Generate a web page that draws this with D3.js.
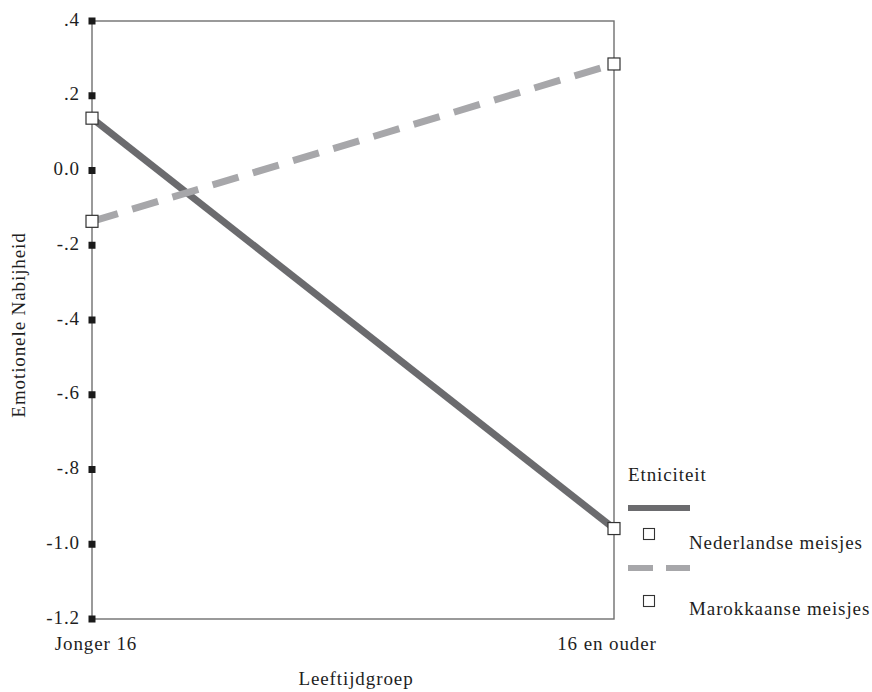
<!DOCTYPE html>
<html><head><meta charset="utf-8">
<script src="https://cdn.jsdelivr.net/npm/d3@7"></script>
<style>body{margin:0;background:#fff}svg{display:block}text{font-family:"Liberation Serif","DejaVu Serif",serif;fill:#1e1e1e;letter-spacing:0.9px}</style>
</head><body>
<script>
const categories = ["Jonger 16", "16 en ouder"];
const seriesNames = ["Nederlandse meisjes", "Marokkaanse meisjes"];
const nederlandse = [0.140, -0.958];
const marokkaanse = [-0.136, 0.285];
const yTicks = [0.4, 0.2, 0.0, -0.2, -0.4, -0.6, -0.8, -1.0, -1.2];
const yTickLabels = [".4", ".2", "0.0", "-.2", "-.4", "-.6", "-.8", "-1.0", "-1.2"];
const yTitle = "Emotionele Nabijheid";
const xTitle = "Leeftijdgroep";
const legendTitle = "Etniciteit";

const W = 872, H = 692;
const svg = d3.select("body").append("svg").attr("width", W).attr("height", H);
const x = d3.scalePoint().domain(categories).range([92, 614]);
const y = d3.scaleLinear().domain([-1.2, 0.4]).range([619, 21]);
const FS = 19;

// frame
svg.append("rect").attr("x", 92).attr("y", 21).attr("width", 522).attr("height", 598)
  .attr("fill", "none").attr("stroke", "#707070").attr("stroke-width", 1.4);

// ticks
yTicks.forEach((t, i) => {
  svg.append("rect").attr("x", 92 - 3.5).attr("y", y(t) - 3.5).attr("width", 7).attr("height", 7).attr("fill", "#1a1a1a");
  svg.append("text").attr("x", 80).attr("y", y(t) + 4.5).attr("text-anchor", "end")
    .attr("font-size", FS).text(yTickLabels[i]);
});
const xLabelShift = [4, -7];
categories.forEach((c, i) => {
  svg.append("text").attr("x", x(c) + xLabelShift[i]).attr("y", 650).attr("text-anchor", "middle").attr("font-size", FS).text(c);
});
svg.append("text").attr("x", 356).attr("y", 685).attr("text-anchor", "middle").attr("font-size", FS).text(xTitle);
svg.append("text").attr("transform", "translate(25,325) rotate(-90)").attr("text-anchor", "middle").attr("font-size", FS).text(yTitle);

const line = d3.line().x((d, i) => x(categories[i])).y(d => y(d));
const styles = [
  {data: nederlandse, color: "#6b6b6e", dash: null, legDash: null},
  {data: marokkaanse, color: "#a7a7aa", dash: "27,15", legDash: "25,13"}
];
styles.forEach(s => {
  svg.append("path").attr("d", line(s.data)).attr("fill", "none").attr("stroke", s.color)
    .attr("stroke-width", 7).attr("stroke-dasharray", s.dash);
});
styles.forEach(s => {
  s.data.forEach((v, i) => {
    svg.append("rect").attr("x", x(categories[i]) - 6).attr("y", y(v) - 6).attr("width", 12).attr("height", 12)
      .attr("fill", "#fff").attr("stroke", "#333").attr("stroke-width", 1.2);
  });
});

// legend
svg.append("text").attr("x", 628).attr("y", 481).attr("font-size", FS).text(legendTitle);
const legLineY = [508, 568];
const legSqY = [534, 601];
const legTextY = [549, 615];
styles.forEach((s, i) => {
  svg.append("line").attr("x1", 628).attr("x2", 690).attr("y1", legLineY[i]).attr("y2", legLineY[i])
    .attr("stroke", s.color).attr("stroke-width", 6).attr("stroke-dasharray", s.legDash);
  svg.append("rect").attr("x", 643.5).attr("y", legSqY[i] - 5.5).attr("width", 11).attr("height", 11)
    .attr("fill", "#fff").attr("stroke", "#333").attr("stroke-width", 1.1);
  svg.append("text").attr("x", 689).attr("y", legTextY[i]).attr("font-size", FS).text(seriesNames[i]);
});
</script>
</body></html>
